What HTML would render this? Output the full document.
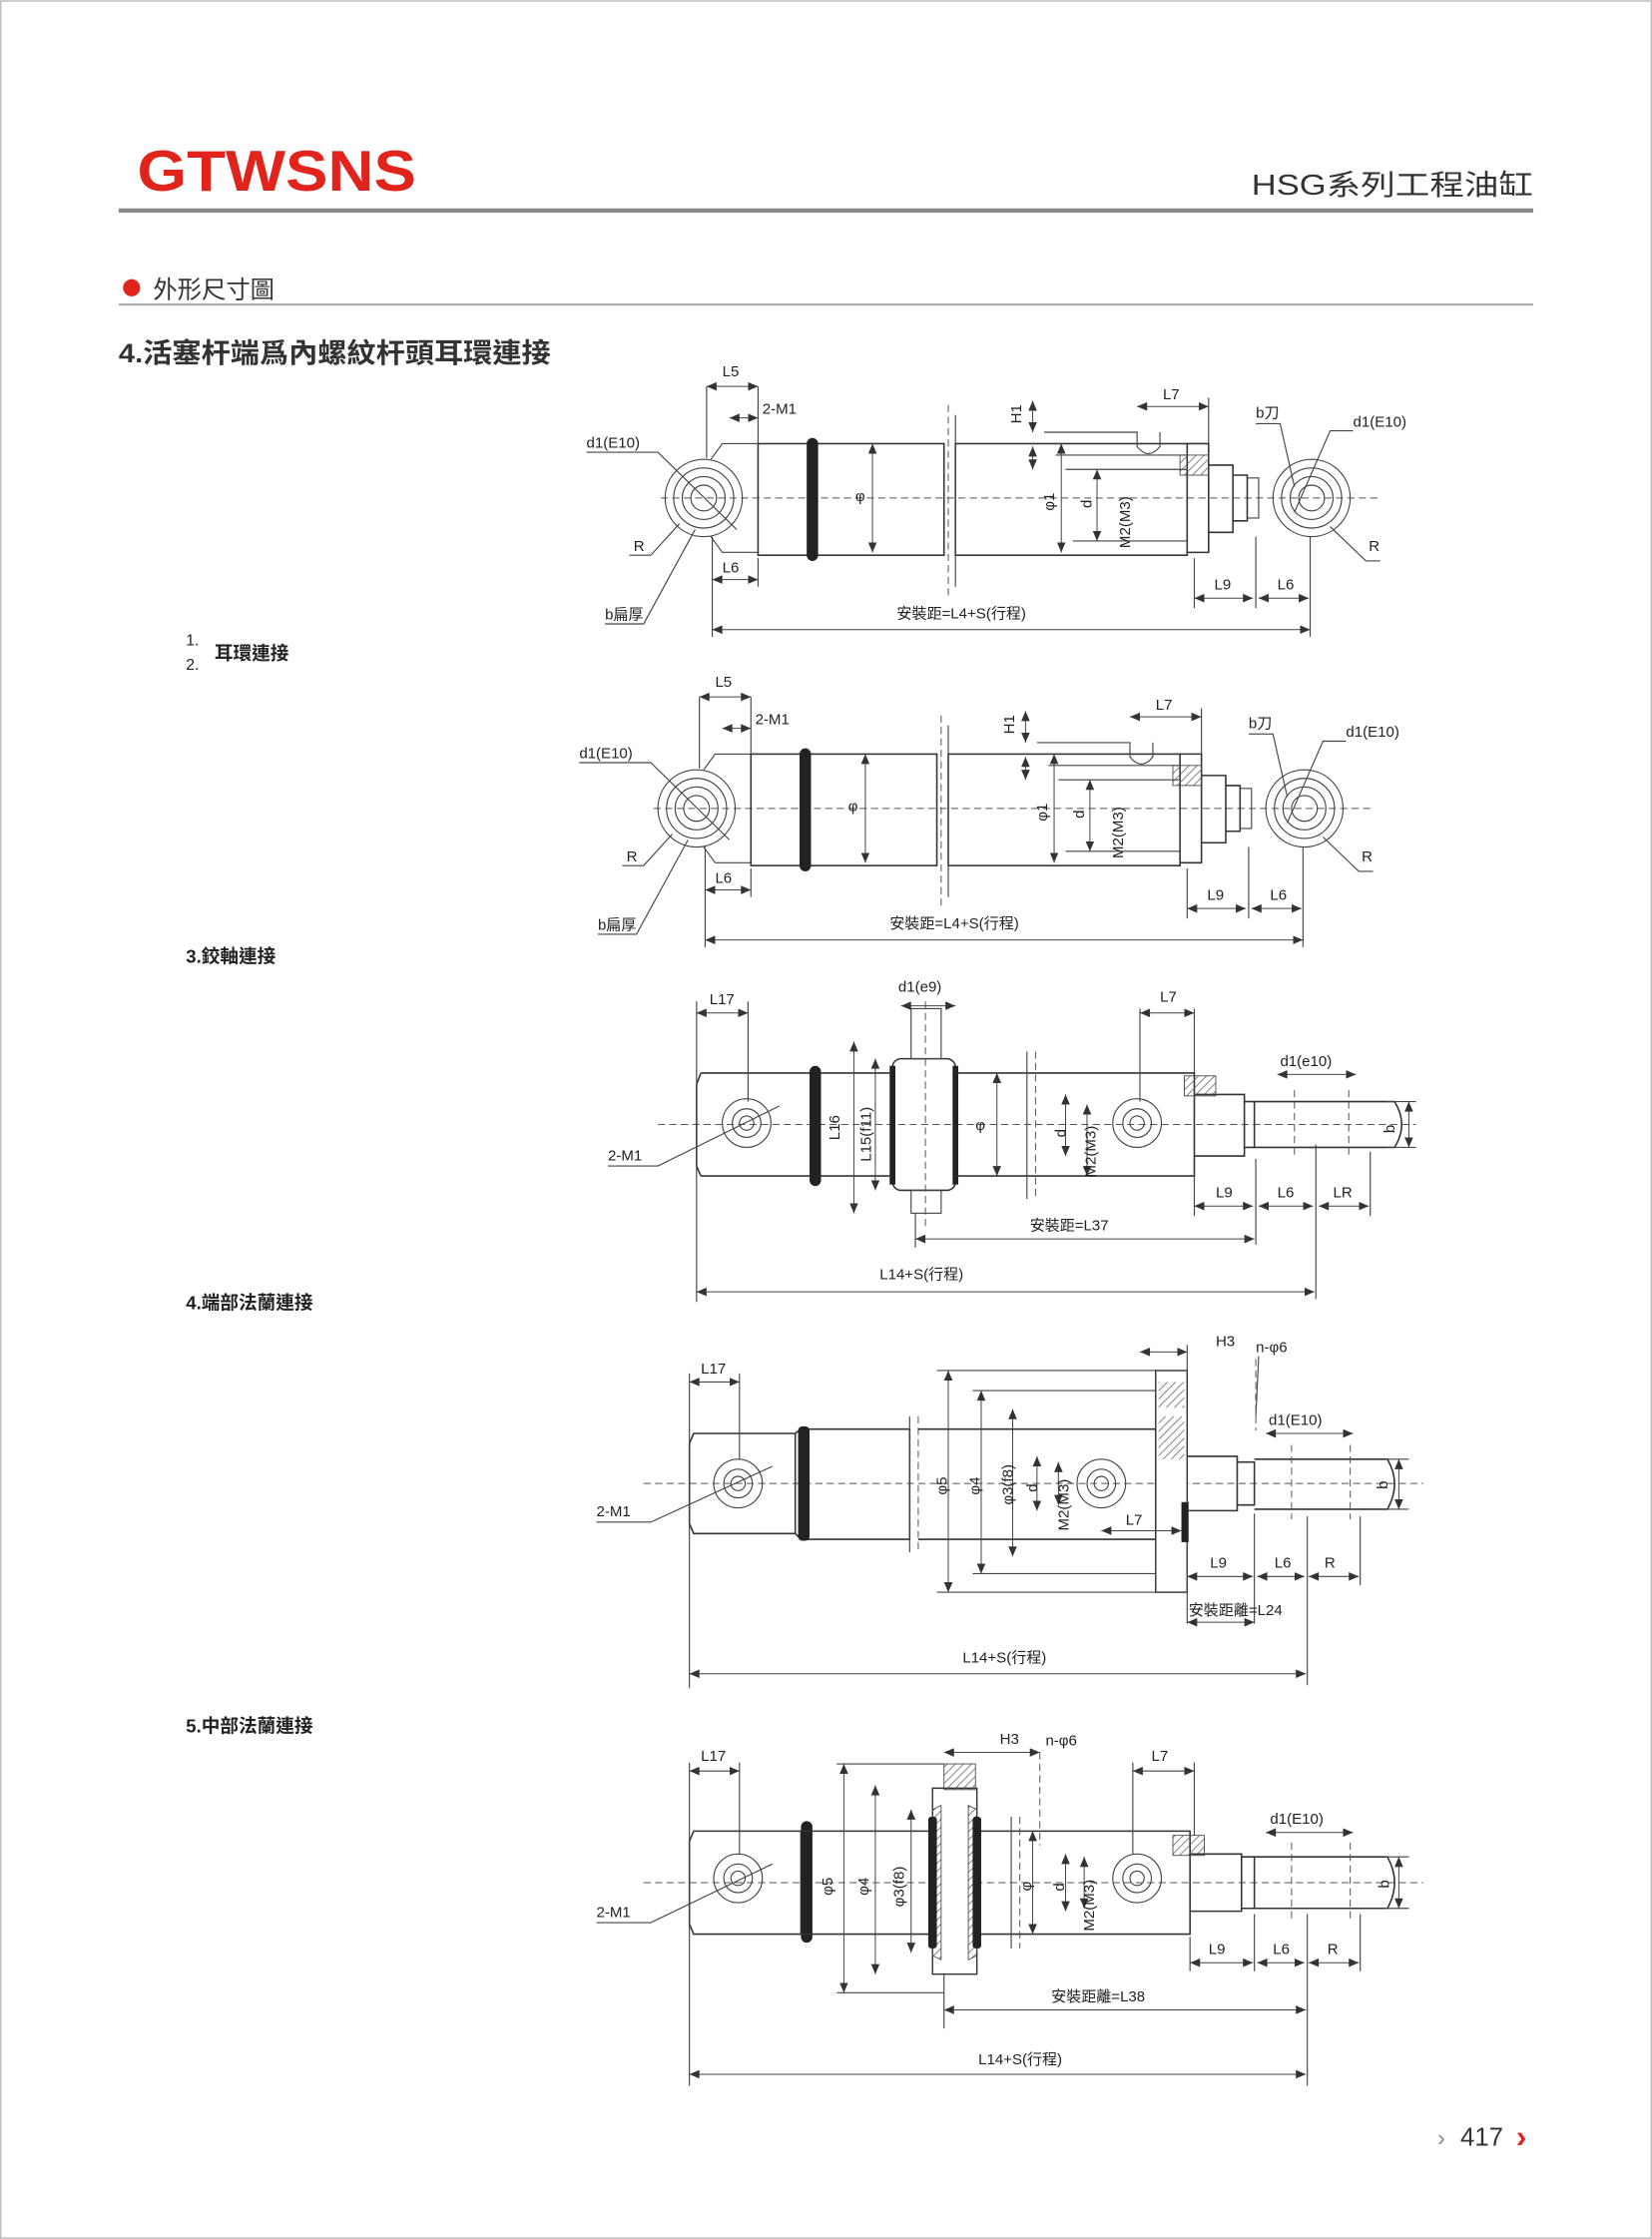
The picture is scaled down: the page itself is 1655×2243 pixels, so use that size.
<!DOCTYPE html>
<html><head><meta charset="utf-8">
<style>
html,body{margin:0;padding:0;background:#fff;}
svg{display:block;}
text{font-family:"Liberation Sans","Noto Sans CJK TC",sans-serif;fill:#222;}
.t{font-size:10.5px;}
.l{stroke:#444;stroke-width:0.8;fill:none;}
.th{stroke:#333;stroke-width:1.1;fill:none;}
.c{stroke:#555;stroke-width:0.7;stroke-dasharray:5 3;fill:none;}
.d{stroke:#444;stroke-width:0.7;fill:none;marker-start:url(#a);marker-end:url(#b);}
.band{fill:#222;}
</style></head><body>
<svg width="1655" height="2243" viewBox="0 0 1155 1565" xmlns="http://www.w3.org/2000/svg">
<defs>
<marker id="b" markerWidth="8" markerHeight="6" refX="7" refY="3" orient="auto" markerUnits="userSpaceOnUse"><path d="M0,0 L7,3 L0,6 Z" fill="#333"/></marker>
<marker id="a" markerWidth="8" markerHeight="6" refX="0" refY="3" orient="auto" markerUnits="userSpaceOnUse"><path d="M7,0 L0,3 L7,6 Z" fill="#333"/></marker>
<pattern id="h" width="4" height="4" patternUnits="userSpaceOnUse" patternTransform="rotate(45)"><line x1="0" y1="0" x2="0" y2="4" stroke="#555" stroke-width="1"/></pattern>
</defs>
<rect x="0.5" y="0.5" width="1154" height="1564" fill="none" stroke="#bbb" stroke-width="1"/>
<!-- header -->
<text x="96" y="133" style="font-size:40px;font-weight:bold;fill:#e0241c" textLength="195" lengthAdjust="spacingAndGlyphs">GTWSNS</text>
<text x="875" y="136" style="font-size:20px;fill:#333" textLength="197" lengthAdjust="spacingAndGlyphs">HSG系列工程油缸</text>
<rect x="83" y="145.5" width="989" height="3" fill="#888"/>
<circle cx="92" cy="201" r="6" fill="#e0241c"/>
<text x="107" y="208" style="font-size:17px;fill:#333">外形尺寸圖</text>
<rect x="83" y="212" width="989" height="1.5" fill="#aaa"/>
<text x="83" y="253" style="font-size:19px;font-weight:bold;fill:#333" textLength="302" lengthAdjust="spacingAndGlyphs">4.活塞杆端爲內螺紋杆頭耳環連接</text>
<text x="130" y="451" style="font-size:11px">1.</text>
<text x="130" y="468" style="font-size:11px">2.</text>
<text x="150" y="461" style="font-size:13px;font-weight:bold">耳環連接</text>
<text x="130" y="673" style="font-size:13px;font-weight:bold">3.鉸軸連接</text>
<text x="130" y="915" style="font-size:13px;font-weight:bold">4.端部法蘭連接</text>
<text x="130" y="1211" style="font-size:13px;font-weight:bold">5.中部法蘭連接</text>
<text x="1005" y="1500" style="font-size:16px;fill:#888">›</text>
<text x="1021" y="1500" style="font-size:18px;fill:#333">417</text>
<text x="1060" y="1501" style="font-size:22px;font-weight:bold;fill:#e0241c">›</text>

<!-- Diagram 1 & 2 -->
<g id="d1">
<line class="c" x1="462" y1="348" x2="965" y2="348"/>
<circle class="l" cx="492" cy="348" r="27"/><circle class="l" cx="492" cy="348" r="21"/><circle class="l" cx="492" cy="348" r="15"/><circle class="l" cx="492" cy="348" r="9"/>
<path class="l" d="M497,321 L505,310 L530,310 M497,375 L505,386 L530,386"/>
<rect class="th" x="530" y="310" width="130" height="78"/>
<rect class="th" x="668" y="310" width="162" height="78"/>
<rect class="band" x="564" y="306" width="8" height="86" rx="4"/>
<line class="c" x1="663" y1="283" x2="663" y2="418"/><line class="l" x1="668" y1="290" x2="668" y2="410"/>
<path class="l" d="M730,302 L795,302 L795,312 Q803,322 811,312 L811,302 M738,318 L830,318 M745,328 L830,328 M750,378 L830,378"/>
<path class="th" d="M830,310 L845,310 L845,386 L830,386 M845,325 L862,325 L862,372 L845,372 M862,332 L872,332 L872,364 L862,364"/>
<rect x="825" y="318" width="20" height="14" fill="url(#h)" stroke="#444" stroke-width="0.6"/>
<path class="l" d="M872,334 L880,334 L880,362 L872,362"/>
<circle class="l" cx="917" cy="348" r="27"/><circle class="l" cx="917" cy="348" r="21"/><circle class="l" cx="917" cy="348" r="15"/><circle class="l" cx="917" cy="348" r="9"/>
<line class="d" x1="494" y1="270" x2="530" y2="270"/><line class="l" x1="494" y1="270" x2="494" y2="320"/><line class="l" x1="530" y1="270" x2="530" y2="310"/>
<text class="t" x="505" y="263">L5</text>
<line class="d" x1="510" y1="292" x2="530" y2="292"/><text class="t" x="533" y="289">2-M1</text>
<text class="t" x="410" y="313">d1(E10)</text><path class="l" d="M410,316 L460,316 L515,370"/>
<text class="t" x="443" y="385">R</text><path class="l" d="M440,388 L455,388 L475,366"/>
<line class="d" x1="498" y1="405" x2="530" y2="405"/><line class="l" x1="530" y1="390" x2="530" y2="410"/><text class="t" x="505" y="400">L6</text>
<text class="t" x="423" y="433">b扁厚</text><path class="l" d="M423,436 L450,436 L486,370"/>
<line class="d" x1="498" y1="440" x2="916" y2="440"/><line class="l" x1="498" y1="375" x2="498" y2="445"/><line class="l" x1="916" y1="375" x2="916" y2="445"/>
<text class="t" x="627" y="432">安裝距=L4+S(行程)</text>
<line class="d" x1="722" y1="280" x2="722" y2="302"/><line class="d" x1="722" y1="312" x2="722" y2="328"/><text class="t" x="714" y="296" transform="rotate(-90 714 296)">H1</text>
<line class="d" x1="795" y1="284" x2="845" y2="284"/><line class="l" x1="845" y1="278" x2="845" y2="310"/><text class="t" x="813" y="279">L7</text>
<line class="d" x1="742" y1="310" x2="742" y2="386"/><text class="t" x="737" y="357" transform="rotate(-90 737 357)">φ1</text>
<line class="d" x1="767" y1="328" x2="767" y2="378"/><text class="t" x="763" y="355" transform="rotate(-90 763 355)">d</text>
<text class="t" x="790" y="383" transform="rotate(-90 790 383)">M2(M3)</text>
<line class="d" x1="610" y1="310" x2="610" y2="386"/><text class="t" x="598" y="350">φ</text>
<line class="d" x1="835" y1="418" x2="876" y2="418"/><line class="l" x1="835" y1="390" x2="835" y2="425"/><line class="l" x1="878" y1="375" x2="878" y2="425"/><text class="t" x="849" y="412">L9</text>
<line class="d" x1="880" y1="418" x2="915" y2="418"/><text class="t" x="893" y="412">L6</text>
<text class="t" x="878" y="292">b刀</text><path class="l" d="M878,296 L895,296 L905,340"/>
<text class="t" x="946" y="298">d1(E10)</text><path class="l" d="M946,301 L930,301 L905,358"/>
<text class="t" x="957" y="385">R</text><path class="l" d="M965,392 L955,392 L930,368"/>
</g>
<use href="#d1" x="-5" y="217"/>

<!-- Diagram 3 -->
<g>
<line class="c" x1="460" y1="786" x2="990" y2="786"/>
<path class="th" d="M490,750 L622,750 M490,822 L622,822 M490,750 L487,758 L487,815 L490,822"/>
<circle class="l" cx="522" cy="785" r="17"/><circle class="l" cx="522" cy="785" r="10"/><circle class="l" cx="522" cy="785" r="5"/>
<rect class="band" x="566" y="745" width="8" height="84" rx="4"/>
<rect class="th" x="624" y="740" width="44" height="92" rx="6"/>
<rect class="band" x="622" y="745" width="4" height="83"/><rect class="band" x="666" y="745" width="4" height="83"/>
<rect class="l" x="637" y="705" width="21" height="35"/><rect class="l" x="637" y="832" width="21" height="16"/>
<line class="c" x1="647" y1="700" x2="647" y2="860"/>
<path class="th" d="M668,750 L835,750 L835,822 L668,822"/>
<line class="l" x1="718" y1="735" x2="718" y2="838"/><line class="c" x1="724" y1="735" x2="724" y2="838"/>
<circle class="l" cx="795" cy="785" r="17"/><circle class="l" cx="795" cy="785" r="10"/><circle class="l" cx="795" cy="785" r="5"/>
<path class="th" d="M835,765 L870,765 L870,808 L835,808 M870,770 L877,770 L877,802 L870,802"/>
<rect x="828" y="752" width="22" height="14" fill="url(#h)" stroke="#444" stroke-width="0.6"/>
<path class="th" d="M877,770 L975,770 Q985,786 975,802 L877,802"/>
<line class="c" x1="905" y1="762" x2="905" y2="810"/><line class="c" x1="943" y1="762" x2="943" y2="810"/>
<line class="d" x1="487" y1="708" x2="523" y2="708"/><line class="l" x1="487" y1="700" x2="487" y2="910"/><line class="l" x1="523" y1="700" x2="523" y2="770"/><text class="t" x="496" y="702">L17</text>
<line class="d" x1="630" y1="703" x2="668" y2="703"/><text class="t" x="628" y="693">d1(e9)</text>
<line class="d" x1="597" y1="728" x2="597" y2="848"/><text class="t" x="587" y="797" transform="rotate(-90 587 797)">L16</text>
<line class="d" x1="612" y1="740" x2="612" y2="832"/><text class="t" x="609" y="812" transform="rotate(-90 609 812)">L15(f11)</text>
<line class="d" x1="697" y1="750" x2="697" y2="822"/><text class="t" x="682" y="790">φ</text>
<line class="d" x1="745" y1="765" x2="745" y2="808"/><text class="t" x="745" y="795" transform="rotate(-90 745 795)">d</text>
<line class="d" x1="760" y1="772" x2="760" y2="822"/><text class="t" x="766" y="823" transform="rotate(-90 766 823)">M2(M3)</text>
<line class="d" x1="797" y1="708" x2="835" y2="708"/><line class="l" x1="797" y1="705" x2="797" y2="770"/><line class="l" x1="835" y1="705" x2="835" y2="750"/><text class="t" x="811" y="700">L7</text>
<text class="t" x="895" y="745">d1(e10)</text><line class="d" x1="893" y1="751" x2="948" y2="751"/>
<line class="d" x1="985" y1="770" x2="985" y2="802"/><line class="l" x1="970" y1="770" x2="990" y2="770"/><line class="l" x1="970" y1="802" x2="990" y2="802"/><text class="t" x="975" y="792" transform="rotate(-90 975 792)">b</text>
<line class="d" x1="835" y1="843" x2="876" y2="843"/><line class="l" x1="835" y1="820" x2="835" y2="850"/><line class="l" x1="878" y1="810" x2="878" y2="870"/><text class="t" x="850" y="837">L9</text>
<line class="d" x1="880" y1="843" x2="918" y2="843"/><line class="l" x1="920" y1="800" x2="920" y2="908"/><text class="t" x="893" y="837">L6</text>
<line class="d" x1="922" y1="843" x2="957" y2="843"/><line class="l" x1="958" y1="805" x2="958" y2="850"/><text class="t" x="932" y="837">LR</text>
<line class="d" x1="640" y1="866" x2="877" y2="866"/><line class="l" x1="640" y1="848" x2="640" y2="872"/><text class="t" x="720" y="860">安裝距=L37</text>
<line class="d" x1="487" y1="903" x2="919" y2="903"/><text class="t" x="615" y="894">L14+S(行程)</text>
<text class="t" x="425" y="811">2-M1</text><path class="l" d="M425,815 L460,815 L545,773"/>
</g>

<!-- Diagram 4 -->
<g>
<line class="c" x1="450" y1="1037" x2="995" y2="1037"/>
<path class="th" d="M485,1002 L556,1002 L556,1072 L485,1072 L482,1065 L482,1009 Z"/>
<circle class="l" cx="516" cy="1037" r="17"/><circle class="l" cx="516" cy="1037" r="10"/><circle class="l" cx="516" cy="1037" r="5"/>
<path class="th" d="M556,1002 L560,999 L636,999 L636,1076 L560,1076 L556,1072"/>
<rect class="band" x="558" y="997" width="8" height="80" rx="3"/>
<line class="l" x1="636" y1="990" x2="636" y2="1085"/><line class="c" x1="642" y1="990" x2="642" y2="1085"/>
<path class="th" d="M642,999 L808,999 L808,1076 L642,1076"/>
<circle class="l" cx="770" cy="1037" r="17"/><circle class="l" cx="770" cy="1037" r="10"/><circle class="l" cx="770" cy="1037" r="5"/>
<rect x="808" y="958" width="22" height="155" fill="#fff" stroke="#333" stroke-width="1"/>
<rect x="810" y="966" width="18" height="18" fill="url(#h)"/><rect x="810" y="990" width="18" height="30" fill="url(#h)"/>
<rect class="band" x="826" y="1050" width="5" height="28"/>
<path class="th" d="M830,1018 L865,1018 L865,1056 L830,1056 M865,1022 L877,1022 L877,1052 L865,1052"/>
<path class="th" d="M877,1020 L970,1020 Q980,1037 970,1055 L877,1055"/>
<line class="c" x1="903" y1="1010" x2="903" y2="1062"/><line class="c" x1="944" y1="1010" x2="944" y2="1062"/>
<line class="d" x1="482" y1="966" x2="517" y2="966"/><line class="l" x1="482" y1="960" x2="482" y2="1180"/><line class="l" x1="517" y1="960" x2="517" y2="1020"/><text class="t" x="490" y="960">L17</text>
<line class="d" x1="663" y1="958" x2="663" y2="1113"/><line class="l" x1="655" y1="958" x2="808" y2="958"/><line class="l" x1="655" y1="1113" x2="808" y2="1113"/><text class="t" x="662" y="1045" transform="rotate(-90 662 1045)">φ5</text>
<line class="d" x1="686" y1="972" x2="686" y2="1100"/><line class="l" x1="680" y1="972" x2="808" y2="972"/><line class="l" x1="680" y1="1100" x2="808" y2="1100"/><text class="t" x="685" y="1045" transform="rotate(-90 685 1045)">φ4</text>
<line class="d" x1="708" y1="985" x2="708" y2="1088"/><text class="t" x="708" y="1052" transform="rotate(-90 708 1052)">φ3(f8)</text>
<line class="d" x1="725" y1="1018" x2="725" y2="1056"/><text class="t" x="725" y="1043" transform="rotate(-90 725 1043)">d</text>
<line class="d" x1="740" y1="1022" x2="740" y2="1052"/><text class="t" x="747" y="1070" transform="rotate(-90 747 1070)">M2(M3)</text>
<line class="d" x1="770" y1="1070" x2="826" y2="1070"/><text class="t" x="787" y="1066">L7</text>
<line class="d" x1="797" y1="945" x2="830" y2="945"/><line class="l" x1="830" y1="940" x2="830" y2="958"/><text class="t" x="850" y="941">H3</text>
<text class="t" x="878" y="945">n-φ6</text><path class="l" d="M880,948 L878,990"/><line class="c" x1="878" y1="950" x2="878" y2="1000"/>
<text class="t" x="887" y="996">d1(E10)</text><line class="d" x1="885" y1="1002" x2="946" y2="1002"/>
<line class="d" x1="978" y1="1020" x2="978" y2="1055"/><line class="l" x1="968" y1="1020" x2="985" y2="1020"/><line class="l" x1="968" y1="1055" x2="985" y2="1055"/><text class="t" x="970" y="1041" transform="rotate(-90 970 1041)">b</text>
<line class="d" x1="830" y1="1102" x2="876" y2="1102"/><line class="l" x1="830" y1="1078" x2="830" y2="1135"/><line class="l" x1="877" y1="1058" x2="877" y2="1135"/><text class="t" x="846" y="1096">L9</text>
<line class="d" x1="879" y1="1102" x2="912" y2="1102"/><line class="l" x1="914" y1="1060" x2="914" y2="1178"/><text class="t" x="891" y="1096">L6</text>
<line class="d" x1="915" y1="1102" x2="950" y2="1102"/><line class="l" x1="951" y1="1060" x2="951" y2="1108"/><text class="t" x="926" y="1096">R</text>
<line class="d" x1="830" y1="1134" x2="877" y2="1134"/><text class="t" x="831" y="1129">安裝距離=L24</text>
<line class="d" x1="482" y1="1170" x2="913" y2="1170"/><text class="t" x="673" y="1162">L14+S(行程)</text>
<text class="t" x="417" y="1060">2-M1</text><path class="l" d="M417,1064 L455,1064 L540,1025"/>
</g>

<!-- Diagram 5 -->
<g>
<line class="c" x1="450" y1="1316" x2="995" y2="1316"/>
<path class="th" d="M485,1280 L560,1280 L560,1352 L485,1352 L482,1345 L482,1287 Z"/>
<circle class="l" cx="516" cy="1313" r="17"/><circle class="l" cx="516" cy="1313" r="10"/><circle class="l" cx="516" cy="1313" r="5"/>
<rect class="band" x="560" y="1273" width="8" height="85" rx="4"/>
<path class="th" d="M560,1280 L832,1280 L832,1352 L560,1352"/>
<path d="M652,1250 L683,1250 L683,1380 L652,1380 Z" fill="#fff" stroke="#333" stroke-width="1"/>
<rect x="660" y="1233" width="22" height="18" fill="url(#h)" stroke="#444" stroke-width="0.6"/>
<path d="M652,1265 L658,1262 L658,1370 L652,1367 Z M683,1265 L677,1262 L677,1370 L683,1367 Z" fill="url(#h)" stroke="#444" stroke-width="0.6"/>
<rect class="band" x="649" y="1270" width="6" height="92" rx="2"/><rect class="band" x="680" y="1270" width="6" height="92" rx="2"/>
<line class="l" x1="707" y1="1270" x2="707" y2="1362"/><line class="c" x1="713" y1="1270" x2="713" y2="1362"/>
<circle class="l" cx="795" cy="1313" r="17"/><circle class="l" cx="795" cy="1313" r="10"/><circle class="l" cx="795" cy="1313" r="5"/>
<rect x="820" y="1283" width="22" height="14" fill="url(#h)" stroke="#444" stroke-width="0.6"/>
<path class="th" d="M832,1296 L868,1296 L868,1336 L832,1336 M868,1298 L877,1298 L877,1334 L868,1334"/>
<path class="th" d="M877,1298 L970,1298 Q980,1316 970,1334 L877,1334"/>
<line class="c" x1="903" y1="1288" x2="903" y2="1342"/><line class="c" x1="944" y1="1288" x2="944" y2="1342"/>
<line class="d" x1="482" y1="1238" x2="517" y2="1238"/><line class="l" x1="482" y1="1232" x2="482" y2="1458"/><line class="l" x1="517" y1="1232" x2="517" y2="1296"/><text class="t" x="490" y="1231">L17</text>
<line class="d" x1="590" y1="1233" x2="590" y2="1393"/><line class="l" x1="585" y1="1233" x2="660" y2="1233"/><line class="l" x1="585" y1="1393" x2="660" y2="1393"/><text class="t" x="582" y="1325" transform="rotate(-90 582 1325)">φ5</text>
<line class="d" x1="612" y1="1248" x2="612" y2="1380"/><text class="t" x="607" y="1325" transform="rotate(-90 607 1325)">φ4</text>
<line class="d" x1="637" y1="1265" x2="637" y2="1365"/><text class="t" x="632" y="1333" transform="rotate(-90 632 1333)">φ3(f8)</text>
<line class="d" x1="722" y1="1280" x2="722" y2="1352"/><text class="t" x="721" y="1322" transform="rotate(-90 721 1322)">φ</text>
<line class="d" x1="745" y1="1296" x2="745" y2="1336"/><text class="t" x="744" y="1322" transform="rotate(-90 744 1322)">d</text>
<line class="d" x1="758" y1="1298" x2="758" y2="1334"/><text class="t" x="765" y="1350" transform="rotate(-90 765 1350)">M2(M3)</text>
<line class="d" x1="660" y1="1225" x2="727" y2="1225"/><text class="t" x="699" y="1219">H3</text>
<text class="t" x="731" y="1220">n-φ6</text><line class="c" x1="727" y1="1225" x2="727" y2="1290"/>
<line class="d" x1="792" y1="1238" x2="835" y2="1238"/><line class="l" x1="792" y1="1232" x2="792" y2="1296"/><line class="l" x1="835" y1="1232" x2="835" y2="1283"/><text class="t" x="805" y="1231">L7</text>
<text class="t" x="888" y="1275">d1(E10)</text><line class="d" x1="885" y1="1281" x2="946" y2="1281"/>
<line class="d" x1="978" y1="1298" x2="978" y2="1334"/><line class="l" x1="968" y1="1298" x2="985" y2="1298"/><line class="l" x1="968" y1="1334" x2="985" y2="1334"/><text class="t" x="971" y="1320" transform="rotate(-90 971 1320)">b</text>
<line class="d" x1="832" y1="1372" x2="876" y2="1372"/><line class="l" x1="832" y1="1354" x2="832" y2="1378"/><line class="l" x1="877" y1="1338" x2="877" y2="1378"/><text class="t" x="845" y="1366">L9</text>
<line class="d" x1="879" y1="1372" x2="912" y2="1372"/><line class="l" x1="914" y1="1338" x2="914" y2="1458"/><text class="t" x="890" y="1366">L6</text>
<line class="d" x1="915" y1="1372" x2="950" y2="1372"/><line class="l" x1="951" y1="1338" x2="951" y2="1378"/><text class="t" x="928" y="1366">R</text>
<line class="d" x1="660" y1="1405" x2="913" y2="1405"/><line class="l" x1="660" y1="1380" x2="660" y2="1418"/><text class="t" x="735" y="1399">安裝距離=L38</text>
<line class="d" x1="482" y1="1450" x2="913" y2="1450"/><text class="t" x="684" y="1443">L14+S(行程)</text>
<text class="t" x="417" y="1340">2-M1</text><path class="l" d="M417,1344 L455,1344 L540,1303"/>
</g>
</svg>
</body></html>
